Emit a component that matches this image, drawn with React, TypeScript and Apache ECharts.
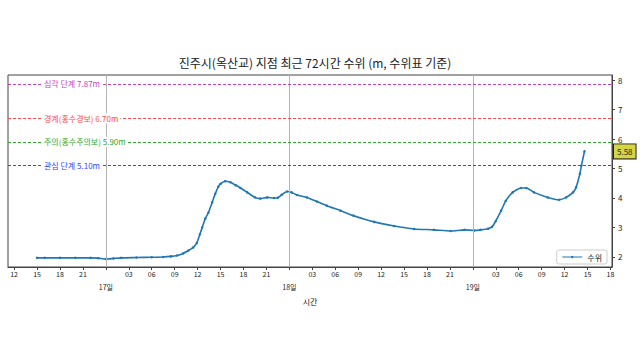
import React, { useEffect, useRef } from "react";
import * as echarts from "echarts";

// hours since 16일 00:00
const hours = [
  15, 16, 18, 20, 22, 23, 24, 25, 26, 28, 30, 31.5, 32.5, 33.3, 34.1, 34.8, 35.4, 35.9,
  36.3, 36.6, 37.0, 37.4, 37.9, 38.3, 38.7, 39.0, 39.6, 40.3, 41.0, 41.6, 42.5, 43.5,
  44.2, 45.1, 46.0, 46.5, 47.0, 47.7, 48.3, 49.0, 50.3, 51.6, 52.9, 54.7, 56.4, 59.1,
  61.7, 64.3, 66.9, 69.1, 70.9, 72.2, 73.0, 74.0, 74.5, 75.0, 75.7, 76.3, 77.2, 78.3,
  79.0, 80.0, 81.8, 83.3, 84.2, 85.1, 85.5, 86.0, 86.2, 86.6,
];
const levels = [
  1.97, 1.97, 1.97, 1.97, 1.97, 1.96, 1.93, 1.95, 1.97, 1.98, 1.99, 2.0, 2.02, 2.05, 2.12, 2.22, 2.32, 2.48,
  2.77, 3.0, 3.3, 3.5, 3.85, 4.14, 4.38, 4.48, 4.57, 4.53, 4.43, 4.34, 4.19, 4.02,
  3.98, 4.02, 4.0, 4.01, 4.11, 4.22, 4.19, 4.1, 4.02, 3.88, 3.74, 3.57, 3.4, 3.19,
  3.05, 2.95, 2.92, 2.88, 2.92, 2.9, 2.92, 2.96, 3.02, 3.22, 3.57, 3.9, 4.19, 4.34,
  4.34, 4.19, 4.02, 3.94, 4.02, 4.19, 4.36, 4.82, 5.1, 5.58,
];
const thresholdNames = ["심각 단계", "경계(홍수경보)", "주의(홍수주의보)", "관심 단계"];
const thresholdValues = [7.87, 6.7, 5.9, 5.1];
const thresholdColors = ["#bf3fbf", "#ff4a4a", "#2fa82f", "#4040ff"];
const xTicks = [12, 15, 18, 21, 24, 27, 30, 33, 36, 39, 42, 45, 48, 51, 54, 57, 60, 63, 66, 69, 72, 75, 78, 81, 84, 87, 90];
const dayLines = [24, 48, 72];
const yTicks = [2, 3, 4, 5, 6, 7, 8];
const currentLevel = 5.58;

const FONT = "'Noto Sans CJK KR', 'Noto Sans', sans-serif";

export default function App() {
  const ref = useRef<HTMLDivElement>(null);
  useEffect(() => {
    if (!ref.current) return;
    const chart = echarts.init(ref.current, undefined, { renderer: "svg" });
    const data = hours.map((h, i) => [h, levels[i]]);
    const pad = (n: number) => (n < 10 ? "0" + n : "" + n);

    const markData: any[] = [];
    dayLines.forEach((d) => {
      markData.push({
        xAxis: d,
        lineStyle: { color: "#b5b5b5", type: "solid", width: 1 },
        label: { show: false },
      });
    });
    thresholdValues.forEach((v, i) => {
      markData.push({
        yAxis: v,
        lineStyle: { color: thresholdColors[i], type: [3, 2], width: 1 },
        label: {
          show: true,
          position: "start",
          align: "left",
          verticalAlign: "middle",
          offset: [39, 0],
          formatter: `${thresholdNames[i]} ${v.toFixed(2)}m`,
          color: thresholdColors[i],
          fontSize: 8,
          fontFamily: FONT,
          backgroundColor: "#ffffff",
          padding: [1, 2],
        },
      });
    });
    markData.push({
      yAxis: currentLevel,
      lineStyle: { color: "transparent", width: 0 },
      label: {
        show: true,
        position: "end",
        distance: 2,
        formatter: currentLevel.toFixed(2),
        color: "#222",
        fontSize: 8,
        fontFamily: FONT,
        backgroundColor: "#d6d642",
        borderColor: "#222",
        borderWidth: 1,
        padding: [3, 3],
      },
    });

    chart.setOption({
      animation: false,
      backgroundColor: "#ffffff",
      title: {
        text: "진주시(옥산교) 지점 최근 72시간 수위 (m, 수위표 기준)",
        left: 310,
        top: 51,
        textAlign: "center",
        textStyle: { fontSize: 12, fontWeight: "normal", color: "#222", fontFamily: FONT },
      },
      legend: {
        right: 33,
        bottom: 96,
        data: ["수위"],
        itemWidth: 20,
        itemHeight: 3,
        lineStyle: { width: 1 },
        borderColor: "#cccccc",
        borderWidth: 1,
        borderRadius: 2,
        padding: [3, 5],
        textStyle: { fontSize: 8, color: "#222", fontFamily: FONT },
        backgroundColor: "#fff",
      },
      grid: {
        left: 8,
        right: 28,
        top: 75,
        bottom: 93,
        show: true,
        borderColor: "#444",
        borderWidth: 1,
        backgroundColor: "transparent",
      },
      xAxis: {
        type: "value",
        min: 11.2,
        max: 90.2,
        name: "시간",
        nameLocation: "middle",
        nameGap: 22,
        nameTextStyle: { fontSize: 8, color: "#222", fontFamily: FONT },
        axisLine: { show: true, lineStyle: { color: "#444" } },
        axisTick: { show: true, customValues: xTicks, length: 3, lineStyle: { color: "#444" } },
        axisLabel: {
          customValues: xTicks,
          fontSize: 7,
          color: "#222",
          fontFamily: FONT,
          margin: 0,
          lineHeight: 13,
          formatter: (v: number) => {
            const r = Math.round(v);
            if (r % 24 === 0) return "\n" + (16 + r / 24) + "일";
            return pad(r % 24);
          },
        },
        splitLine: { show: false },
      },
      yAxis: {
        type: "value",
        position: "right",
        min: 1.66,
        max: 8.17,
        axisLine: { show: true, lineStyle: { color: "#444" } },
        axisTick: { show: true, customValues: yTicks, length: 3, lineStyle: { color: "#444" } },
        axisLabel: {
          customValues: yTicks,
          fontSize: 8,
          color: "#222",
          fontFamily: FONT,
          margin: 6,
        },
        splitLine: { show: false },
      },
      series: [
        {
          name: "수위",
          type: "line",
          data,
          color: "#1f77b4",
          smooth: 0.2,
          lineStyle: { width: 1.6, color: "#1f77b4" },
          symbol: "circle",
          symbolSize: 2.5,
          showSymbol: true,
          itemStyle: { color: "#1f77b4" },
          markLine: {
            silent: true,
            symbol: ["none", "none"],
            data: markData,
          },
          z: 3,
        },
      ],
    });
    return () => chart.dispose();
  }, []);
  return (
    <div
      ref={ref}
      style={{ position: "absolute", left: 0, top: 0, width: 640, height: 360 }}
    />
  );
}
